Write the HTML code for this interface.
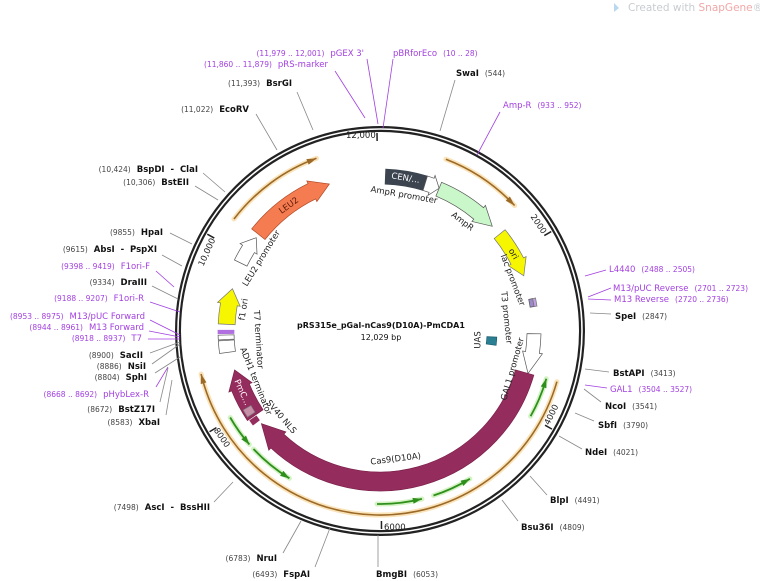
<!DOCTYPE html>
<html><head><meta charset="utf-8">
<style>
html,body{margin:0;padding:0;background:#fff;}
svg{display:block;font-family:"DejaVu Sans","Liberation Sans",sans-serif;}
.n{font-weight:bold;font-size:8.5px;fill:#111}
.p{font-size:7.5px;fill:#444}
.pu{font-size:8.5px;fill:#a23fe0}
.pp{font-size:7.5px;fill:#a23fe0}
.in{font-size:8.5px;fill:#222}
</style></head>
<body>
<svg id="s" width="760" height="581" viewBox="0 0 760 581" xmlns="http://www.w3.org/2000/svg">
<text x="628" y="11" style="font-size:10.5px;fill:#c8ccd0">Created with <tspan fill="#f0a8a8">SnapGene</tspan>®</text>
<path d="M614 3 L619 8 L614 12 Z" fill="#b8d8f0"/>
<g id="g"></g>
</svg>
<script>
var cx=380,cy=331,NS="http://www.w3.org/2000/svg",g=document.getElementById('g');
function P(r,a){a*=Math.PI/180;return [cx+r*Math.sin(a),cy-r*Math.cos(a)];}
function add(tag,at,txt){var e=document.createElementNS(NS,tag);for(var k in at)e.setAttribute(k,at[k]);if(txt!=null)e.textContent=txt;g.appendChild(e);return e;}
function arcD(r,a1,a2,move){var p1=P(r,a1),p2=P(r,a2);var sw=a2>a1?1:0,lg=Math.abs(a2-a1)>180?1:0;return (move?'M':'L')+p1[0].toFixed(1)+' '+p1[1].toFixed(1)+' A'+r+' '+r+' 0 '+lg+' '+sw+' '+p2[0].toFixed(1)+' '+p2[1].toFixed(1);}
function band(r1,r2,a1,a2,h,fill,stroke){
 var dir=a2>a1?1:-1,ae=h?a2-dir*h:a2,rm=(r1+r2)/2,ex=h?3:0;
 var d=arcD(r2,a1,ae,true);
 if(h){var q=P(r2+ex,ae),t=P(rm,a2),q2=P(r1-ex,ae);d+=' L'+q+' L'+t+' L'+q2;}
 d+=' '+arcD(r1,ae,a1,false)+' Z';
 add('path',{d:d,fill:fill,stroke:stroke||'#555','stroke-width':0.7});
}
function thin(r,a1,a2,c1,c2,w){
 add('path',{d:arcD(r,a1,a2,true),fill:'none',stroke:c1,'stroke-width':5,'stroke-linecap':'round','opacity':0.8});
 add('path',{d:arcD(r,a1,a2,true),fill:'none',stroke:c2,'stroke-width':w||1.6});
 var dir=a2>a1?1:-1,t=P(r,a2),b1=P(r+3,a2-dir*3),b2=P(r-3,a2-dir*3);
 add('path',{d:'M'+t+' L'+b1+' L'+b2+' Z',fill:c2});
}
function tt(txt,r,a,cls,extra){var p=P(r,a),rot=(a>90&&a<270)?a-180:a;if(extra!=null)rot+=extra;
 return add('text',{x:p[0],y:p[1],transform:'rotate('+rot+' '+p[0]+' '+p[1]+')','text-anchor':'middle','dominant-baseline':'middle','class':cls||'in'},txt);}
add('circle',{cx:cx,cy:cy,r:202,fill:'none',stroke:'#222','stroke-width':6});
add('circle',{cx:cx,cy:cy,r:202,fill:'none',stroke:'#fff','stroke-width':1.6});
[12000,2000,4000,6000,8000,10000].forEach(function(t){
 var a=t/12029*360,p1=P(198,a),p2=P(190,a);add('line',{x1:p1[0],y1:p1[1],x2:p2[0],y2:p2[1],stroke:'#222','stroke-width':1.5});});
add('text',{x:346,y:138,style:'font-size:8.5px;fill:#222'},'12,000');
add('text',{x:384,y:530,style:'font-size:8.5px;fill:#222'},'6000');
tt('2000',191,56);tt('4000',191,116);tt('8000',191,236);tt('10,000',190,294.5);
thin(184,21,47,'#f9dca8','#9c6a28');
thin(184,307.5,339.8,'#f9dca8','#9c6a28');
thin(184,106,256.5,'#f9dca8','#9c6a28');
[[119.5,106],[162,148.7],[181,166],[240,229],[227,211.6]].forEach(function(s){thin(173,s[0],s[1],'#c9f0b5','#2f8f1d',1.8);});
band(147,162,2,17,0,'#3c4450','#3c4450');
band(147,162,17,22.5,3,'#fff','#555');
band(146,161,22.5,47,7,'#c9f7c9','#555');
band(147,161,51,69,6,'#f6f600','#777');
band(147,161,91,106,8,'#fff','#555');
band(141,160,106,232,9,'#952c5e','#7a2048');
band(141,160,236,255,7,'#952c5e','#7a2048');
band(149,158,237,240,0,'#c890a8','#777');
band(150,158,233.5,235.5,0,'#952c5e','#952c5e');
band(146,162,262,266.5,0,'#fff','#555');
band(146,162,266.8,268.5,0,'#fff','#555');
band(146,162,269,270.3,0,'#b070e0','#b070e0');
band(145,162,272.5,286,6,'#f6f600','#777');
band(148,162,296,307,5,'#fff','#555');
band(147,164,308.5,341,7,'#f47c50','#b04a28');
band(152,156,78,81,0,'#9a8ac8','#555');
band(156,159,78,81,0,'#c0a0e0','#777');
band(107,117,93,97,0,'#2a7f92','#1c5f70');
tt('CEN/...',155,9.5,'in').setAttribute('style','fill:#fff;font-size:8.5px');
tt('AmpR promoter',138,10);
tt('AmpR',137,37);
tt('ori',154,60);
tt('lac promoter',142,69);
tt('T3 promoter',127,84);
add('text',{x:478,y:340,transform:'rotate(-90 478 340)','text-anchor':'middle','dominant-baseline':'middle','class':'in'},'UAS');
tt('GAL1 promoter',138,106);
tt('Cas9(D10A)',129,173);
tt('PmC...',151,246).setAttribute('style','fill:#fff;font-size:8.5px');
tt('SV40 NLS',131,229);
tt('ADH1 terminator',134,248);
tt('T7 terminator',122,266);
tt('f1 ori',138,279);
tt('LEU2 promoter',139,301.5);
tt('LEU2',155,324).setAttribute('style','fill:#5a1a08;font-size:8.5px');
add('text',{x:381,y:328,'text-anchor':'middle',style:'font-size:8px;font-weight:bold;fill:#111'},'pRS315e_pGal-nCas9(D10A)-PmCDA1');
add('text',{x:381,y:340,'text-anchor':'middle',style:'font-size:8px;fill:#111'},'12,029 bp');
var L=[
['L',364,56,"(11,979 .. 12,001)","pGEX 3'",1,367,59,378,124],
['L',328,67,"(11,860 .. 11,879)","pRS-marker",1,335,71,365,118],
['L',292,86,"(11,393)","BsrGI",0,297,92,313,130],
['L',249,112,"(11,022)","EcoRV",0,256,114,277,150],
['L',198,172,"(10,424)","BspDI  -  ClaI",0,203,173,225,192],
['L',189,185,"(10,306)","BstEII",0,195,186,218,200],
['L',163,235,"(9855)","HpaI",0,170,233,192,244],
['L',157,252,"(9615)","AbsI  -  PspXI",0,162,255,182,266],
['L',150,269,"(9398 .. 9419)","F1ori-F",1,156,271,174,287],
['L',147,285,"(9334)","DraIII",0,152,286,178,299],
['L',144,301,"(9188 .. 9207)","F1ori-R",1,150,302,180,312],
['L',145,319,"(8953 .. 8975)","M13/pUC Forward",1,150,320,180,335],
['L',144,330,"(8944 .. 8961)","M13 Forward",1,149,331,180,337],
['L',142,341,"(8918 .. 8937)","T7",1,148,339,180,339],
['L',143,358,"(8900)","SacII",0,150,353,180,342],
['L',146,369,"(8886)","NsiI",0,152,364,180,344],
['L',147,380,"(8804)","SphI",0,155,373,180,357],
['L',149,397,"(8668 .. 8692)","pHybLex-R",1,156,387,168,367],
['L',155,412,"(8672)","BstZ17I",0,160,402,168,368],
['L',160,425,"(8583)","XbaI",0,166,415,172,380],
['L',210,510,"(7498)","AscI  -  BssHII",0,214,502,233,482],
['L',277,561,"(6783)","NruI",0,283,553,301,521],
['L',310,577,"(6493)","FspAI",0,315,567,330,528],
['R',376,577,"(6053)","BmgBI",0,378,567,378,535],
['R',393,56,"(10 .. 28)","pBRforEco",1,393,59,383,128],
['R',456,76,"(544)","SwaI",0,455,80,440,131],
['R',503,108,"(933 .. 952)","Amp-R",1,500,112,477,155],
['R',609,272,"(2488 .. 2505)","L4440",1,606,270,585,276],
['R',613,291,"(2701 .. 2723)","M13/pUC Reverse",1,611,288,588,297],
['R',614,302,"(2720 .. 2736)","M13 Reverse",1,611,300,588,299],
['R',615,319,"(2847)","SpeI",0,611,314,590,313],
['R',613,376,"(3413)","BstAPI",0,609,372,585,369],
['R',610,392,"(3504 .. 3527)","GAL1",1,607,388,585,385],
['R',605,409,"(3541)","NcoI",0,601,402,584,389],
['R',598,428,"(3790)","SbfI",0,594,421,575,413],
['R',585,455,"(4021)","NdeI",0,582,449,559,436],
['R',550,503,"(4491)","BlpI",0,547,495,530,476],
['R',521,530,"(4809)","Bsu36I",0,518,521,502,500]
];
L.forEach(function(l){
 var pur=l[5];
 add('line',{x1:l[6],y1:l[7],x2:l[8],y2:l[9],stroke:pur?'#a23fe0':'#888','stroke-width':0.8});
 var t=add('text',{x:l[1],y:l[2],'text-anchor':l[0]=='L'?'end':'start',style:'white-space:pre'});
 var a=document.createElementNS(NS,'tspan'),b=document.createElementNS(NS,'tspan');
 a.setAttribute('class',pur?'pp':'p');a.textContent=l[3];
 b.setAttribute('class',pur?'pu':'n');b.textContent=l[4];
 b.setAttribute('style','white-space:pre');
 if(l[0]=='L'){b.setAttribute('dx','6');t.appendChild(a);t.appendChild(b);}
 else{a.setAttribute('dx','6');t.appendChild(b);t.appendChild(a);}
});
</script>
</body></html>
